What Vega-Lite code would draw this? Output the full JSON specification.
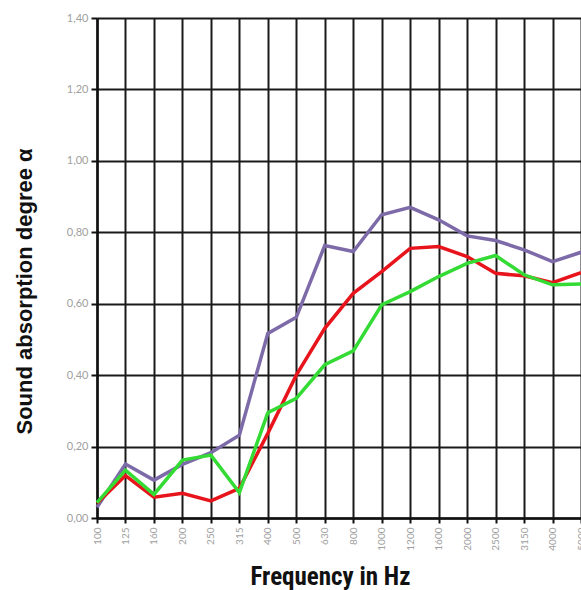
{
  "$schema": "https://vega.github.io/schema/vega-lite/v6.json",
  "width": 484,
  "height": 500,
  "autosize": "none",
  "padding": {"left": 97, "top": 18, "right": 0, "bottom": 72},
  "background": "white",
  "config": {"view": {"stroke": null}},
  "data": {
    "values": [
      {"freq": "100", "series": "Variant 1", "alpha": 0.03},
      {"freq": "125", "series": "Variant 1", "alpha": 0.151},
      {"freq": "160", "series": "Variant 1", "alpha": 0.106},
      {"freq": "200", "series": "Variant 1", "alpha": 0.15},
      {"freq": "250", "series": "Variant 1", "alpha": 0.183},
      {"freq": "315", "series": "Variant 1", "alpha": 0.232},
      {"freq": "400", "series": "Variant 1", "alpha": 0.517},
      {"freq": "500", "series": "Variant 1", "alpha": 0.562},
      {"freq": "630", "series": "Variant 1", "alpha": 0.763},
      {"freq": "800", "series": "Variant 1", "alpha": 0.746},
      {"freq": "1000", "series": "Variant 1", "alpha": 0.849},
      {"freq": "1200", "series": "Variant 1", "alpha": 0.87},
      {"freq": "1600", "series": "Variant 1", "alpha": 0.835},
      {"freq": "2000", "series": "Variant 1", "alpha": 0.79},
      {"freq": "2500", "series": "Variant 1", "alpha": 0.777},
      {"freq": "3150", "series": "Variant 1", "alpha": 0.751},
      {"freq": "4000", "series": "Variant 1", "alpha": 0.718},
      {"freq": "5000", "series": "Variant 1", "alpha": 0.744},

      {"freq": "100", "series": "Variant 2", "alpha": 0.041},
      {"freq": "125", "series": "Variant 2", "alpha": 0.119},
      {"freq": "160", "series": "Variant 2", "alpha": 0.058},
      {"freq": "200", "series": "Variant 2", "alpha": 0.069},
      {"freq": "250", "series": "Variant 2", "alpha": 0.048},
      {"freq": "315", "series": "Variant 2", "alpha": 0.083},
      {"freq": "400", "series": "Variant 2", "alpha": 0.237},
      {"freq": "500", "series": "Variant 2", "alpha": 0.4},
      {"freq": "630", "series": "Variant 2", "alpha": 0.531},
      {"freq": "800", "series": "Variant 2", "alpha": 0.629},
      {"freq": "1000", "series": "Variant 2", "alpha": 0.69},
      {"freq": "1200", "series": "Variant 2", "alpha": 0.755},
      {"freq": "1600", "series": "Variant 2", "alpha": 0.76},
      {"freq": "2000", "series": "Variant 2", "alpha": 0.732},
      {"freq": "2500", "series": "Variant 2", "alpha": 0.685},
      {"freq": "3150", "series": "Variant 2", "alpha": 0.678},
      {"freq": "4000", "series": "Variant 2", "alpha": 0.659},
      {"freq": "5000", "series": "Variant 2", "alpha": 0.687},

      {"freq": "100", "series": "Variant 3", "alpha": 0.043},
      {"freq": "125", "series": "Variant 3", "alpha": 0.134},
      {"freq": "160", "series": "Variant 3", "alpha": 0.066},
      {"freq": "200", "series": "Variant 3", "alpha": 0.162},
      {"freq": "250", "series": "Variant 3", "alpha": 0.176},
      {"freq": "315", "series": "Variant 3", "alpha": 0.071},
      {"freq": "400", "series": "Variant 3", "alpha": 0.295},
      {"freq": "500", "series": "Variant 3", "alpha": 0.335},
      {"freq": "630", "series": "Variant 3", "alpha": 0.429},
      {"freq": "800", "series": "Variant 3", "alpha": 0.468},
      {"freq": "1000", "series": "Variant 3", "alpha": 0.597},
      {"freq": "1200", "series": "Variant 3", "alpha": 0.634},
      {"freq": "1600", "series": "Variant 3", "alpha": 0.676},
      {"freq": "2000", "series": "Variant 3", "alpha": 0.713},
      {"freq": "2500", "series": "Variant 3", "alpha": 0.735},
      {"freq": "3150", "series": "Variant 3", "alpha": 0.681},
      {"freq": "4000", "series": "Variant 3", "alpha": 0.653},
      {"freq": "5000", "series": "Variant 3", "alpha": 0.655}
    ]
  },
  "mark": {"type": "line", "strokeWidth": 3.5, "clip": false},
  "encoding": {
    "x": {
      "field": "freq",
      "type": "ordinal",
      "sort": null,
      "scale": {"type": "point", "padding": 0},
      "axis": {
        "title": "Frequency in Hz",
        "titleFont": "Liberation Sans Narrow, Roboto Condensed, Roboto",
        "titleFontWeight": "bold",
        "titleFontSize": 25,
        "titleColor": "#111111",
        "titlePadding": 14,
        "titleX": 233,
        "titleAlign": "center",
        "labelAngle": 270,
        "labelFont": "Lato",
        "labelFontSize": 10,
        "labelColor": "#a0a0a0",
        "labelPadding": 4,
        "grid": true,
        "gridColor": "#1a1a1a",
        "gridWidth": 2,
        "domainColor": "#111111",
        "domainWidth": 2.5,
        "tickColor": "#111111",
        "tickWidth": 2,
        "tickSize": 5
      }
    },
    "y": {
      "field": "alpha",
      "type": "quantitative",
      "scale": {"domain": [0, 1.4], "nice": false},
      "axis": {
        "title": "Sound absorption degree α",
        "titleFont": "Liberation Sans",
        "titleFontWeight": "bold",
        "titleFontSize": 22,
        "titleColor": "#111111",
        "titlePadding": 30,
        "titleY": 273,
        "titleAlign": "center",
        "values": [0, 0.2, 0.4, 0.6, 0.8, 1.0, 1.2, 1.4],
        "labelExpr": "replace(format(datum.value, '.2f'), '.', ',')",
        "labelFont": "Lato",
        "labelFontSize": 11,
        "labelColor": "#a0a0a0",
        "labelPadding": 3,
        "grid": true,
        "gridColor": "#1a1a1a",
        "gridWidth": 2,
        "domainColor": "#111111",
        "domainWidth": 2.5,
        "tickColor": "#111111",
        "tickWidth": 2,
        "tickSize": 6
      }
    },
    "color": {
      "field": "series",
      "type": "nominal",
      "scale": {"domain": ["Variant 1", "Variant 2", "Variant 3"], "range": ["#7d6aa8", "#e8141c", "#35db35"]},
      "legend": null
    }
  }
}
